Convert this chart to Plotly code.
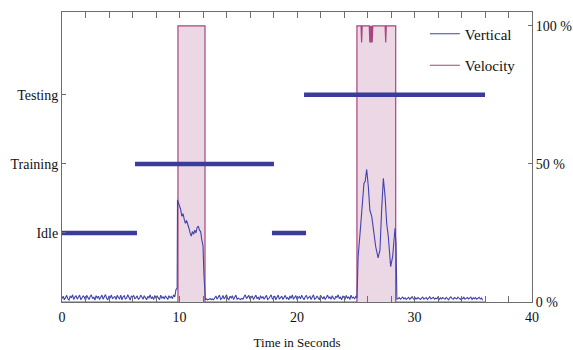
import plotly.graph_objects as go

# ---------------- data ----------------
state_names = ["Idle", "Training", "Testing"]
state_levels = [1, 2, 3]
seg_state = ["Idle", "Training", "Idle", "Testing"]
seg_start = [0.0, 6.21, 17.87, 20.6]
seg_end = [6.38, 18.04, 20.77, 36.0]

# vertical signal (percent): noisy baseline segments sampled every 0.1 s
noise1_start = 0.0
noise1 = [1.2,2.1,0.8,1.9,2.4,1.1,0.7,2.2,1.5,2.6,
          0.9,1.8,2.3,1.0,1.6,2.5,0.8,1.3,2.2,1.7,
          0.6,2.4,1.4,0.9,2.0,2.6,1.2,1.8,0.7,2.3,
          1.5,2.1,0.9,1.6,2.5,1.0,1.9,2.7,1.3,0.8,
          2.2,1.4,2.6,1.1,1.7,2.0,0.9,2.4,1.6,1.2,
          2.5,0.8,1.9,2.3,1.0,1.5,2.6,1.3,0.7,2.1,
          1.8,2.4,1.1,1.6,2.2,0.9,1.4,2.5,1.9,1.0,
          2.3,1.7,0.8,2.0,1.5,2.6,1.2,1.8,0.9,2.4,
          1.3,2.1,1.6,0.8,2.5,1.4,1.9,1.1,2.2,1.7,
          0.9,2.3,1.5,2.0,1.2,2.6,1.8,4.5]
spike1_t = [9.8, 9.83, 9.9, 10.0, 10.1, 10.2, 10.3, 10.4, 10.5, 10.6, 10.7, 10.8, 10.9,
            11.0, 11.1, 11.2, 11.3, 11.4, 11.5, 11.6, 11.7, 11.8, 11.9, 12.0, 12.08, 12.15]
spike1_v = [5.0, 37.0, 36.0, 34.0, 33.5, 31.0, 32.0, 30.0, 28.5, 29.5, 27.5, 26.8, 25.0,
            23.9, 25.5, 24.5, 26.0, 25.0, 27.0, 27.5, 26.0, 25.5, 22.5, 20.3, 10.0, 1.5]
noise2_start = 12.2
noise2 = [0.9,1.1,0.8,1.0,1.2,0.9,1.1,0.8,1.4,2.2,
          1.0,1.6,2.5,0.9,1.3,2.4,1.1,1.8,2.6,1.2,
          0.8,2.1,1.5,2.3,0.9,1.7,2.5,1.0,1.4,1.1,
          0.9,1.3,1.0,2.0,2.6,1.2,1.9,2.4,1.0,1.6,
          2.2,0.9,1.5,2.5,1.1,1.8,0.8,2.3,1.3,2.0,
          1.0,1.6,2.4,0.9,1.2,1.9,2.6,1.1,1.4,2.2,
          0.8,1.7,2.5,1.0,1.5,2.1,0.9,1.8,2.4,1.2,
          1.6,0.8,2.2,1.3,2.6,1.0,1.7,2.3,0.9,1.4,
          2.0,1.1,2.5,1.5,0.8,1.9,2.4,1.2,1.6,2.1,
          0.9,1.8,2.6,1.0,1.3,2.2,1.5,0.8,2.4,1.7,
          1.1,2.0,0.9,1.6,2.5,1.3,1.8,1.0,2.3,1.4,
          0.9,2.1,1.6,2.6,1.2,1.7,0.8,2.2,1.5,1.0,
          2.4,1.3,1.9,0.9,2.5,1.4,1.8,1.1,2.0]
spike2_t = [25.1, 25.15, 25.2, 25.35, 25.5, 25.6, 25.7, 25.8, 25.93, 26.07, 26.2, 26.36, 26.5,
            26.7, 26.9, 27.06, 27.2, 27.35, 27.5, 27.63, 27.77, 27.97, 28.14, 28.34, 28.43, 28.5]
spike2_v = [1.5, 8.0, 16.5, 24.0, 31.0, 38.0, 43.0, 43.6, 48.0, 41.8, 33.3, 31.0, 26.0,
            20.0, 16.0, 18.8, 33.0, 44.8, 38.0, 28.6, 23.7, 12.8, 16.4, 26.7, 21.0, 1.0]
noise3_start = 28.6
noise3 = [1.2,1.6,1.0,1.4,1.8,1.1,1.5,0.9,1.3,1.7,
          1.0,1.4,1.9,1.2,0.8,1.5,1.1,1.6,1.3,0.9,
          1.4,1.8,1.0,1.2,1.6,0.9,1.5,1.9,1.1,1.3,
          1.7,1.0,1.4,1.2,1.8,0.9,1.5,1.1,1.6,1.3,
          1.0,1.7,1.4,0.8,1.5,1.9,1.2,1.0,1.6,1.3,
          1.1,1.8,1.4,0.9,1.5,1.2,1.7,1.0,1.3,1.6,
          1.1,1.4,1.8,0.9,1.5,1.2,1.6,1.0,1.3,1.7,
          1.1,1.4,0.6]
sample_dt = 0.1

# velocity (percent)
vel_t = [0, 9.87, 9.87, 12.17, 12.17, 25.1, 25.1, 25.45, 25.5, 25.55, 26.15, 26.2, 26.25,
         26.3, 26.35, 26.4, 26.45, 27.5, 27.55, 27.6, 28.4, 28.4, 36.0]
vel_v = [0, 0, 100, 100, 0, 0, 100, 100, 94, 100, 100, 94, 100,
         94, 100, 94, 100, 100, 94, 100, 100, 0, 0]

x_ticks = [0, 10, 20, 30, 40]
pct_ticks = [0, 50, 100]
pct_labels = ["0 %", "50 %", "100 %"]

# ---------------- build ----------------
def seg_times(start, vals):
    return [round(start + i * sample_dt, 3) for i in range(len(vals))]

vert_t = (seg_times(noise1_start, noise1) + spike1_t + seg_times(noise2_start, noise2)
          + spike2_t + seg_times(noise3_start, noise3))
vert_v = noise1 + spike1_v + noise2 + spike2_v + noise3

level_of = dict(zip(state_names, state_levels))
st_x, st_y = [], []
for s, a, b in zip(seg_state, seg_start, seg_end):
    st_x += [a, b, None]
    st_y += [level_of[s], level_of[s], None]

SERIF = "Liberation Serif, Times New Roman, serif"
AX = "#6e6e6e"
VEL_LINE = "#a8457f"
VERT_LINE = "#4242b0"

fig = go.Figure()
fig.add_trace(go.Scatter(x=vel_t, y=vel_v, name="Velocity", mode="lines",
                         line=dict(color=VEL_LINE, width=1.2), fill="tozeroy",
                         fillcolor="#ecd7e4", yaxis="y", showlegend=False))
fig.add_trace(go.Scatter(x=vert_t, y=vert_v, name="Vertical", mode="lines",
                         line=dict(color=VERT_LINE, width=1.1), yaxis="y",
                         legendrank=1, legendgroup="a"))
# legend entry for velocity drawn as a line
fig.add_trace(go.Scatter(x=[None], y=[None], name="Velocity", mode="lines",
                         line=dict(color=VEL_LINE, width=1.2), yaxis="y",
                         legendrank=2, legendgroup="b"))
fig.add_trace(go.Scatter(x=st_x, y=st_y, mode="lines", showlegend=False,
                         line=dict(color="#3b3b9c", width=4.5), yaxis="y2"))

fig.update_layout(
    width=573, height=350,
    margin=dict(l=62, r=41, t=12, b=48, autoexpand=False),
    paper_bgcolor="white", plot_bgcolor="white",
    font=dict(family=SERIF, size=14, color="#111"),
    showlegend=True,
    legend=dict(x=0.772, y=0.981, xanchor="left", yanchor="top",
                font=dict(family=SERIF, size=15, color="#111"),
                bgcolor="rgba(0,0,0,0)", tracegroupgap=9),
    xaxis=dict(range=[0, 40], tickvals=x_ticks, ticks="inside", ticklen=6, tickcolor=AX,
               showline=True, linecolor=AX, linewidth=1, mirror="allticks",
               showgrid=False, zeroline=False, tickfont=dict(size=14), ticklabelstandoff=2,
               minor=dict(dtick=2, ticks="inside", ticklen=3.5, tickcolor=AX, showgrid=False),
               title=dict(text="Time in Seconds", font=dict(family=SERIF, size=13), standoff=17)),
    yaxis=dict(range=[0, 105], side="right", tickvals=pct_ticks, ticktext=pct_labels,
               ticks="inside", ticklen=4, tickcolor=AX, showline=True, linecolor=AX,
               linewidth=1, showgrid=False, zeroline=False, tickfont=dict(size=14)),
    yaxis2=dict(range=[0, 4.2], overlaying="y", side="left", tickvals=state_levels,
                ticktext=state_names, ticks="inside", ticklen=4, tickcolor=AX,
                showline=True, linecolor=AX, linewidth=1, showgrid=False, zeroline=False,
                tickfont=dict(size=14)),
)

fig.write_html("out.html", config={"displayModeBar": False},
               post_script="document.body.style.margin='0';")
